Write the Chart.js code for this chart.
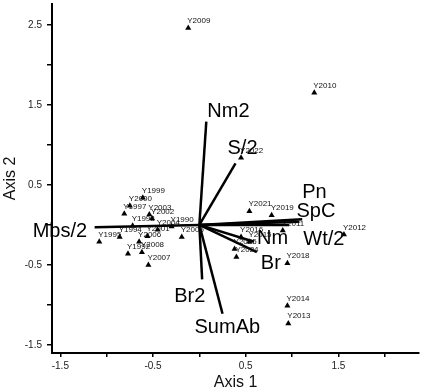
<!DOCTYPE html>
<html>
<head>
<meta charset="utf-8">
<script src="https://cdn.jsdelivr.net/npm/chart.js@4"></script>
<style>
  html, body { margin: 0; padding: 0; background: #fff; }
  #wrap { width: 423px; height: 392px; }
</style>
</head>
<body>
<div id="wrap"><canvas id="biplot"></canvas></div>
<script>
// Site scores (years) on the two ordination axes
const YEARS = ['Y2009', 'Y2010', 'Y2022', 'Y2021', 'Y2019', 'Y2011', 'Y2012', 'Y2016', 'Y2015', 'Y2025',
               'Y2024', 'Y2018', 'Y2014', 'Y2013', 'Y1999', 'Y2000', 'Y1997', 'Y2003', 'Y2002', 'Y1998',
               'Y2004', 'Y1990', 'Y2001', 'Y1995', 'Y1994', 'Y2005', 'Y2006', 'Y2008', 'Y1992', 'Y2007'];
const AX1 = [-0.12, 1.24, 0.45, 0.54, 0.78, 0.90, 1.56, 0.45, 0.54, 0.38,
             0.40, 0.95, 0.95, 0.96, -0.61, -0.75, -0.81, -0.54, -0.51, -0.72,
             -0.45, -0.30, -0.56, -1.08, -0.86, -0.19, -0.65, -0.62, -0.77, -0.55];
const AX2 = [2.46, 1.65, 0.84, 0.17, 0.12, -0.07, -0.12, -0.15, -0.21, -0.30,
             -0.40, -0.48, -1.01, -1.23, 0.34, 0.24, 0.14, 0.13, 0.08, -0.01,
             -0.06, -0.02, -0.14, -0.21, -0.15, -0.15, -0.21, -0.34, -0.36, -0.50];

// Variable vectors (from the origin)
const VARS = ['Nm2', 'S/2', 'Pn', 'SpC', 'Wt/2', 'Nm', 'Br', 'Br2', 'SumAb', 'Mbs/2'];
const VAR_AX1 = [0.075, 0.39, 1.11, 1.08, 0.97, 0.59, 0.62, 0.03, 0.25, -1.13];
const VAR_AX2 = [1.29, 0.77, 0.07, 0.04, 0.00, -0.21, -0.34, -0.68, -1.11, -0.03];

// Axis ticks (labels only on the odd halves)
const X_TICKS = [-1.5, -1, -0.5, 0, 0.5, 1, 1.5, 2];
const Y_TICKS = [-1.5, -1, -0.5, 0, 0.5, 1, 1.5, 2, 2.5];
const X_LABELED = [-1.5, -0.5, 0.5, 1.5];
const Y_LABELED = [-1.5, -0.5, 0.5, 1.5, 2.5];

const FONT = '"Liberation Sans", Arial, sans-serif';

// where each vector name sits relative to the arrow tip (px)
const VAR_LABEL_OFFSET = {
    'Nm2': [1, -5], 'S/2': [-8, -9], 'Pn': [0, -21], 'SpC': [-3, -5], 'Wt/2': [14, 20],
    'Nm': [3, 2], 'Br': [4, 17], 'Br2': [-28, 23], 'SumAb': [-28, 19], 'Mbs/2': [-62, 10]
};

const labelPlugin = {
    id: 'biplotLabels',
    afterDatasetsDraw(chart) {
        const { ctx, scales: { x, y } } = chart;
        ctx.save();
        ctx.fillStyle = '#111';
        ctx.textBaseline = 'alphabetic';
        ctx.textAlign = 'left';
        ctx.font = '8px ' + FONT;
        YEARS.forEach((name, i) => {
            ctx.fillText(name, x.getPixelForValue(AX1[i]) - 1, y.getPixelForValue(AX2[i]) - 5);
        });
        ctx.fillStyle = '#000';
        ctx.font = '20px ' + FONT;
        VARS.forEach((name, i) => {
            const off = VAR_LABEL_OFFSET[name];
            ctx.fillText(name, x.getPixelForValue(VAR_AX1[i]) + off[0], y.getPixelForValue(VAR_AX2[i]) + off[1]);
        });
        ctx.restore();
    }
};

const vectorSets = VARS.map((name, i) => ({
    type: 'line',
    label: name,
    data: [{ x: 0, y: 0 }, { x: VAR_AX1[i], y: VAR_AX2[i] }],
    borderColor: '#000',
    borderWidth: 2.5,
    pointRadius: 0,
    fill: false,
    clip: false
}));

new Chart(document.getElementById('biplot'), {
    type: 'scatter',
    data: {
        datasets: [
            ...vectorSets,
            {
                label: 'Years',
                data: YEARS.map((_, i) => ({ x: AX1[i], y: AX2[i] })),
                pointStyle: 'triangle',
                pointRadius: 3.5,
                backgroundColor: '#000',
                borderWidth: 0,
                clip: false
            }
        ]
    },
    options: {
        responsive: true,
        maintainAspectRatio: false,
        animation: false,
        layout: { padding: { top: 0, right: 3, bottom: 0, left: 0 } },
        plugins: {
            legend: { display: false },
            tooltip: { enabled: false }
        },
        scales: {
            x: {
                type: 'linear',
                min: -1.59,
                max: 2.37,
                afterBuildTicks: s => { s.ticks = X_TICKS.map(v => ({ value: v })); },
                afterFit: s => { s.height = 39; s.paddingLeft = 0; s.paddingRight = 0; },
                grid: { drawOnChartArea: false, drawTicks: true, tickLength: 4, color: '#000', lineWidth: 1.5 },
                border: { display: true, color: '#000', width: 2 },
                ticks: {
                    padding: 3,
                    color: '#222',
                    font: { family: FONT, size: 10 },
                    callback: v => X_LABELED.includes(v) ? String(v) : ''
                },
                title: {
                    display: true,
                    text: 'Axis 1',
                    color: '#111',
                    font: { family: FONT, size: 16 },
                    padding: { top: 0, bottom: 0 }
                }
            },
            y: {
                type: 'linear',
                min: -1.6,
                max: 2.76,
                afterBuildTicks: s => { s.ticks = Y_TICKS.map(v => ({ value: v })); },
                afterFit: s => { s.width = 52; s.paddingTop = 0; s.paddingBottom = 0; },
                grid: { drawOnChartArea: false, drawTicks: true, tickLength: 5, color: '#000', lineWidth: 1.5 },
                border: { display: true, color: '#000', width: 2 },
                ticks: {
                    padding: 5,
                    color: '#222',
                    font: { family: FONT, size: 10 },
                    callback: v => Y_LABELED.includes(v) ? String(v) : ''
                },
                title: {
                    display: true,
                    text: 'Axis 2',
                    color: '#111',
                    font: { family: FONT, size: 16 },
                    padding: { top: 1, bottom: 0 }
                }
            }
        }
    },
    plugins: [labelPlugin]
});
</script>
</body>
</html>
